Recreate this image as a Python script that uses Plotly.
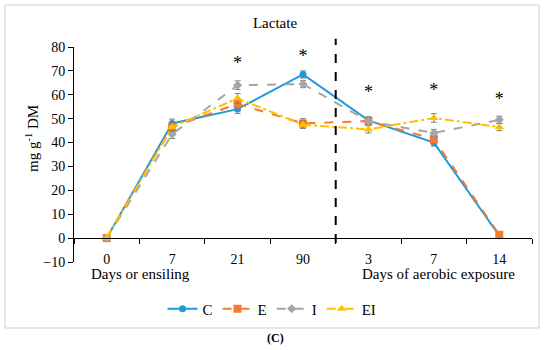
import plotly.graph_objects as go

# ---- data ----
day_labels = ["0", "7", "21", "90", "3", "7", "14"]
x_idx = list(range(len(day_labels)))

C_vals = [0.0, 48.0, 54.0, 68.5, 49.3, 40.0, 1.0]
E_vals = [0.0, 46.5, 56.2, 48.0, 49.0, 41.5, 1.4]
I_vals = [0.0, 43.5, 64.0, 64.5, 48.9, 44.0, 49.5]
EI_vals = [0.0, 46.5, 58.5, 47.5, 45.5, 50.3, 46.5]

C_err = [0.5, 1.8, 1.8, 1.5, 1.5, 1.5, 0.8]
E_err = [0.5, 1.8, 2.0, 2.0, 1.5, 2.0, 0.8]
I_err = [0.5, 1.8, 1.8, 1.5, 1.5, 1.5, 1.5]
EI_err = [0.5, 1.8, 2.0, 1.5, 1.5, 1.8, 1.5]

star_idx = [2, 3, 4, 5, 6]
star_y = [72.5, 75.5, 60.5, 61.5, 57.5]

series = [
    ("C", C_vals, C_err, "#1E9BD7", "solid", "circle", 7),
    ("E", E_vals, E_err, "#F47C30", "dash", "square", 8),
    ("I", I_vals, I_err, "#A5A5A5", "dash", "diamond", 7),
    ("EI", EI_vals, EI_err, "#FFC000", "dashdot", "triangle-up", 8),
]

FONT = "Liberation Serif"
fig = go.Figure()
for name, vals, err, col, dash, sym, ms in series:
    fig.add_trace(go.Scatter(
        x=x_idx, y=vals, name=name, mode="lines+markers",
        line=dict(color=col, width=2, dash=dash),
        marker=dict(symbol=sym, size=ms, color=col),
        error_y=dict(type="data", array=err, visible=True, color="#7F7F7F",
                     thickness=1, width=3),
    ))

fig.add_trace(go.Scatter(
    x=star_idx, y=star_y, mode="text", text=["*"] * len(star_idx),
    textfont=dict(family=FONT, size=18, color="black"), showlegend=False,
    hoverinfo="skip"))

ymin, ymax = -10, 80
def py(v):
    return (v - ymin) / (ymax - ymin)

L, R, T, B = 74, 18, 47, 88
PW, PH = 550 - L - R, 350 - T - B
def pxp(x):
    return (x - L) / PW
def pyp(y):
    return (350 - B - y) / PH

fig.update_layout(
    width=550, height=350,
    margin=dict(l=L, r=R, t=T, b=B, autoexpand=False),
    paper_bgcolor="white", plot_bgcolor="white",
    font=dict(family=FONT, size=14, color="black"),
    title=dict(text="Lactate", x=0.5, xanchor="center", y=1 - 22.7 / 350,
               yanchor="middle", font=dict(family=FONT, size=15, color="black")),
    showlegend=True,
    legend=dict(orientation="h", x=pxp(272), xanchor="center", y=pyp(309),
                yanchor="middle", font=dict(family=FONT, size=15),
                bgcolor="rgba(0,0,0,0)"),
    xaxis=dict(
        range=[-0.5, 6.5], tickmode="array", tickvals=x_idx, ticktext=day_labels,
        anchor="free", position=py(0), showline=True, linecolor="black",
        linewidth=1, showgrid=False, zeroline=False,
        ticks="outside", ticklen=8, tickcolor="rgba(0,0,0,0)",
        tickfont=dict(family=FONT, size=14),
        minor=dict(tickvals=[i - 0.5 for i in range(len(day_labels) + 1)],
                   ticks="outside", ticklen=5, tickcolor="black", showgrid=False),
    ),
    yaxis=dict(
        range=[ymin, ymax], dtick=10, showline=True, linecolor="black",
        linewidth=1, showgrid=False, zeroline=False, ticks="outside",
        ticklen=5, tickcolor="black", tickfont=dict(family=FONT, size=14),
    ),
)

# divider between ensiling and aerobic exposure
fig.add_shape(type="line", xref="x", yref="paper", x0=3.5, x1=3.5,
              y0=py(-2), y1=py(83.5), line=dict(color="black", width=2, dash="dash"))
# outer frame
fig.add_shape(type="rect", xref="paper", yref="paper",
              x0=pxp(5), x1=pxp(539), y0=pyp(328), y1=pyp(5),
              line=dict(color="#D0D0D0", width=1))

annos = [
    ("Days or ensiling", pxp(140), pyp(274), 0, 15),
    ("Days of aerobic exposure", pxp(438), pyp(274), 0, 15),
    ("mg g<sup>-1</sup> DM", pxp(32), pyp(139), -90, 15),
    ("<b>(C)</b>", pxp(275), pyp(338), 0, 12),
]
for txt, ax_, ay_, rot, fs in annos:
    fig.add_annotation(text=txt, xref="paper", yref="paper", x=ax_, y=ay_,
                       xanchor="center", yanchor="middle", showarrow=False,
                       textangle=rot, font=dict(family=FONT, size=fs, color="black"))

fig.write_html("out.html", config={"displayModeBar": False},
               post_script="document.body.style.margin='0';document.body.style.overflow='hidden';")
